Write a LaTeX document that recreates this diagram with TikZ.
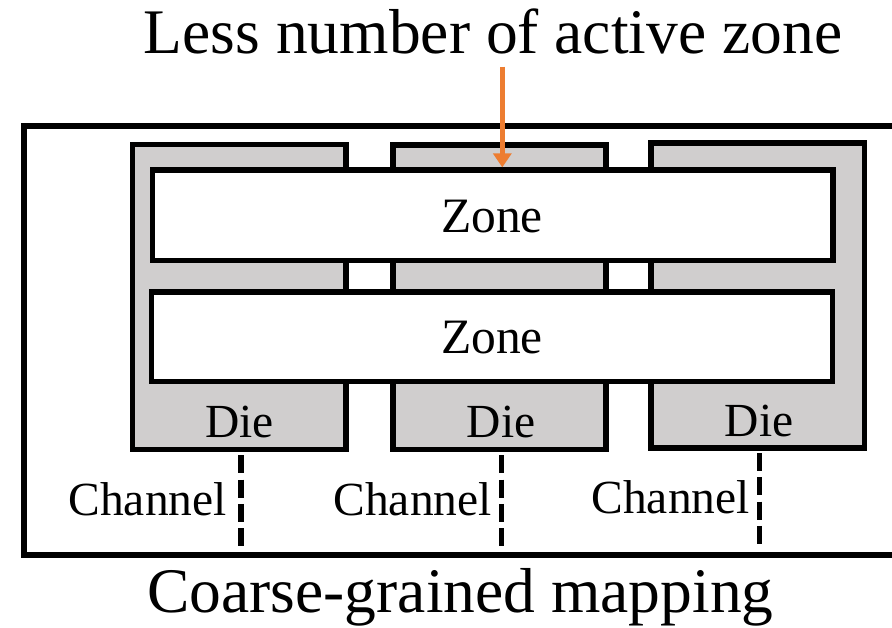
\documentclass[tikz,border=0pt]{standalone}
\usepackage{fontspec}
\setmainfont{Liberation Serif}
\usetikzlibrary{arrows.meta}
\definecolor{diegray}{RGB}{208,206,206}
\definecolor{accent}{RGB}{237,125,49}
\tikzset{
  box/.style={draw=black, line width=5.3pt, outer sep=2.65pt, inner sep=0pt},
  diebox/.style={box, fill=diegray},
  zonebox/.style={box, fill=white},
  lbl/.style={inner sep=0pt, font=\fontsize{47.5}{50}\selectfont},
  zonelbl/.style={inner sep=0pt, font=\fontsize{49.5}{52}\selectfont},
  bigtxt/.style={inner sep=0pt, font=\fontsize{63.5}{66}\selectfont},
  chan/.style={line width=5.5pt, dash pattern=on 18pt off 6.3pt},
  frame/.style={line width=5.3pt, line cap=butt},
  pointer/.style={draw=accent, line width=4.5pt, -{Triangle[length=14pt,width=18pt]}}
}
\begin{document}
\begin{tikzpicture}[x=1pt,y=-1pt]
\useasboundingbox (0,0) rectangle (892,627);

% outer frame (open on the right side)
\draw[frame] (900,126) -- (24,126) -- (24,555) -- (900,555);

% dies
\node[diebox, minimum width=213.5pt, minimum height=305pt] (die1) at (239.25,297) {};
\node[diebox, minimum width=213pt, minimum height=304.5pt] (die2) at (499.5,297.25) {};
\node[diebox, minimum width=213.5pt, minimum height=305pt] (die3) at (757.75,295.5) {};

% zones spanning the dies
\node[zonebox, minimum width=680.5pt, minimum height=90.5pt] (zone1) at (492.75,215.25) {};
\node[zonebox, minimum width=681pt, minimum height=89.7pt] (zone2) at (492,336.85) {};
\node[zonelbl, anchor=base] (zt1) at (492,232.7) {Zone};
\node[zonelbl, anchor=base] (zt2) at (492,353.3) {Zone};

% die labels
\node[lbl, anchor=base] (dl1) at (239.5,437.8) {Die};
\node[lbl, anchor=base] (dl2) at (501,437.8) {Die};
\node[lbl, anchor=base] (dl3) at (759,436.5) {Die};

% channels
\coordinate (c1a) at (241,455.3);   \coordinate (c1b) at (241,546);
\coordinate (c2a) at (501.7,455.3); \coordinate (c2b) at (501.7,546);
\coordinate (c3a) at (759.5,453);   \coordinate (c3b) at (759.5,543.5);
\draw[chan] (c1a) -- (c1b);
\draw[chan] (c2a) -- (c2b);
\draw[chan] (c3a) -- (c3b);
\node[lbl, anchor=base east] (ch1) at (227,515) {Channel};
\node[lbl, anchor=base east] (ch2) at (492,515) {Channel};
\node[lbl, anchor=base east] (ch3) at (750,513.5) {Channel};

% titles
\node[bigtxt, anchor=base] (top) at (493,53) {Less number of active zone};
\node[bigtxt, anchor=base] (bottom) at (460.5,612) {Coarse-grained mapping};

% pointer to the active zone
\coordinate (ptr) at (502.3,66.5);
\draw[pointer] (ptr) -- (ptr |- zone1.north);
\end{tikzpicture}
\end{document}
